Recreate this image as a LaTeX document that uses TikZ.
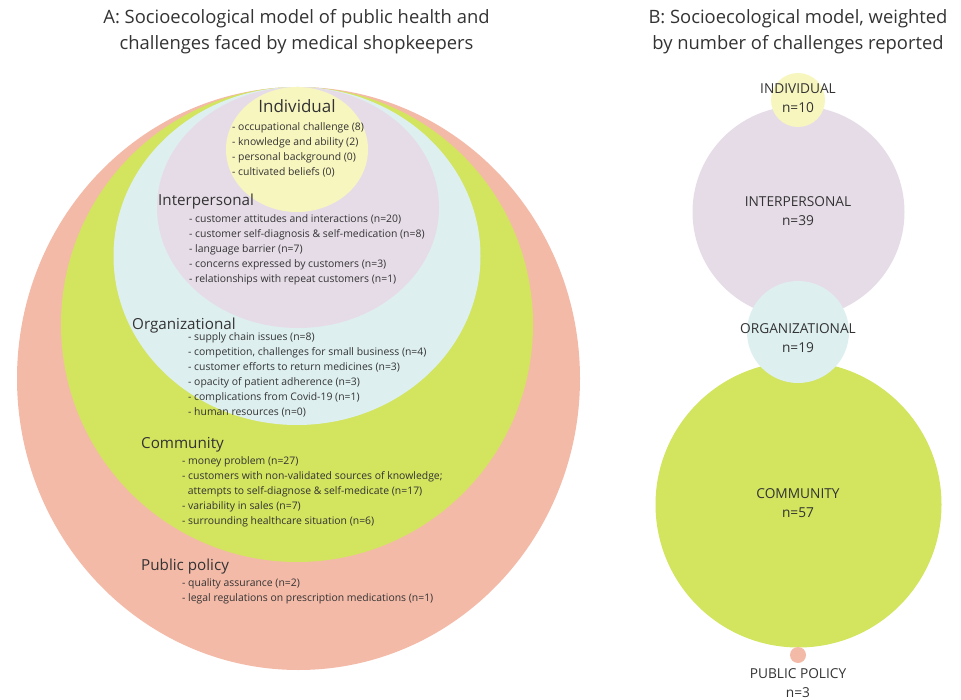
\documentclass[tikz,border=0pt]{standalone}
\usepackage{fontspec}
\setmainfont{Open Sans}
\usetikzlibrary{shapes.geometric}
\definecolor{cpp}{HTML}{F4BAA8}
\definecolor{ccom}{HTML}{D3E45F}
\definecolor{corg}{HTML}{DEEFF0}
\definecolor{cint}{HTML}{E6DCE8}
\definecolor{cind}{HTML}{F8F6BF}
\definecolor{ctxt}{HTML}{333333}
\tikzset{
  layer/.style={ellipse, inner sep=0pt, draw=none},
  ttl/.style={font=\fontsize{18.4}{26}\selectfont, text=ctxt, align=center, anchor=base, inner sep=0pt},
  head/.style={font=\fontsize{15.2}{17}\selectfont, text=ctxt, anchor=base west, inner sep=0pt},
  items/.style={font=\fontsize{10.4}{14.8}\selectfont, text=ctxt, align=left, anchor=base west, inner sep=0pt},
  blab/.style={font=\fontsize{13.7}{19}\selectfont, text=ctxt, align=center, anchor=base, inner sep=0pt},
}
\begin{document}
\begin{tikzpicture}[x=1pt,y=-1pt]
\useasboundingbox (0,0) rectangle (961,700);
% titles (anchored at the baseline of the last line)
\node[ttl] (tA) at (296.5,50) {A: Socioecological model of public health and\\challenges faced by medical shopkeepers};
\node[ttl] (tB) at (798,50) {B: Socioecological model, weighted\\by number of challenges reported};
% panel A
\node[layer, fill=cpp, minimum width=563pt, minimum height=583pt] (Api) at (298.5,378.5) {};
\node[layer, fill=ccom, minimum width=472pt, minimum height=475pt] (Acom) at (297,324.5) {};
\node[layer, fill=corg, minimum width=367pt, minimum height=338pt] (Aorg) at (297,256) {};
\node[layer, fill=cint, minimum width=282pt, minimum height=241pt] (Aint) at (298,207.5) {};
\node[layer, fill=cind, minimum width=142pt, minimum height=125pt] (Aind) at (297,149.5) {};
\node[head, font=\fontsize{17}{20}\selectfont, anchor=base] (hind) at (297,113) {Individual};
\node[items] (iind) at (232,175.4) {- occupational challenge (8)\\- knowledge and ability (2)\\- personal background (0)\\- cultivated beliefs (0)};
\node[head] (hint) at (158,206) {Interpersonal};
\node[items] (iint) at (189,282.2) {- customer attitudes and interactions (n=20)\\- customer self-diagnosis \& self-medication (n=8)\\- language barrier (n=7)\\- concerns expressed by customers (n=3)\\- relationships with repeat customers (n=1)};
\node[head] (horg) at (132,330) {Organizational};
\node[items] (iorg) at (188,415) {- supply chain issues (n=8)\\- competition, challenges for small business (n=4)\\- customer efforts to return medicines (n=3)\\- opacity of patient adherence (n=3)\\- complications from Covid-19 (n=1)\\- human resources (n=0)};
\node[head] (hcom) at (141,448) {Community};
\node[items] (icom) at (182,524) {- money problem (n=27)\\- customers with non-validated sources of knowledge;\\\hspace*{0.55em}attempts to self-diagnose \& self-medicate (n=17)\\- variability in sales (n=7)\\- surrounding healthcare situation (n=6)};
\node[head] (hpp) at (141,570) {Public policy};
\node[items] (ipp) at (182,601.5) {- quality assurance (n=2)\\- legal regulations on prescription medications (n=1)};
% panel B
\node[circle, inner sep=0pt, fill=cint, minimum size=212pt] (Bint) at (798.5,212) {};
\node[circle, inner sep=0pt, fill=cind, minimum size=54pt] (Bind) at (798,100) {};
\node[circle, inner sep=0pt, fill=ccom, minimum size=286pt] (Bcom) at (798.5,504.5) {};
\node[circle, inner sep=0pt, fill=corg, minimum size=102pt] (Borg) at (798,332) {};
\node[circle, inner sep=0pt, fill=cpp, minimum size=16pt] (Bpp) at (798,655) {};
\node[blab] (lind) at (798,113) {INDIVIDUAL\\n=10};
\node[blab] (lint) at (798,226) {INTERPERSONAL\\n=39};
\node[blab] (lorg) at (798,353) {ORGANIZATIONAL\\n=19};
\node[blab] (lcom) at (798,517) {COMMUNITY\\n=57};
\node[blab] (lpp) at (798,697) {PUBLIC POLICY\\n=3};
\end{tikzpicture}
\end{document}
